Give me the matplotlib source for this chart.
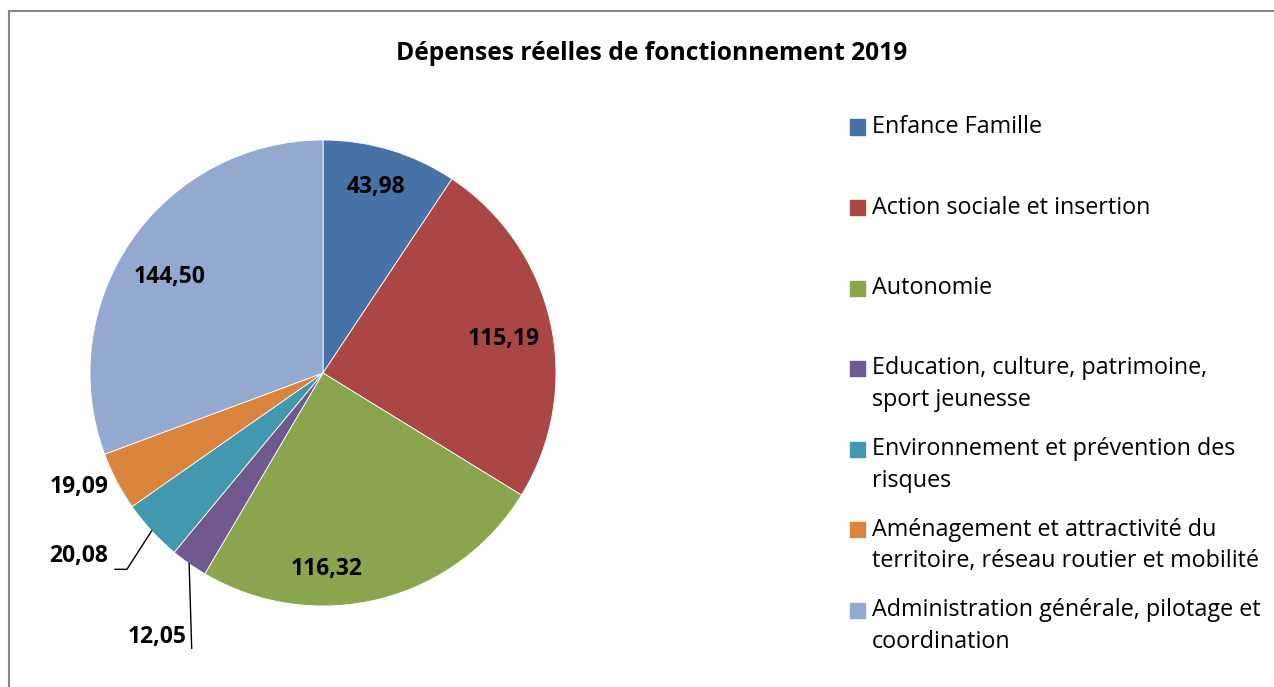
import matplotlib.pyplot as plt
from matplotlib.patches import Rectangle
import numpy as np

plt.rcParams['font.family'] = ['Open Sans', 'DejaVu Sans']

title = "Dépenses réelles de fonctionnement 2019"
categories = [
    "Enfance Famille",
    "Action sociale et insertion",
    "Autonomie",
    "Education, culture, patrimoine,\nsport jeunesse",
    "Environnement et prévention des\nrisques",
    "Aménagement et attractivité du\nterritoire, réseau routier et mobilité",
    "Administration générale, pilotage et\ncoordination",
]
values = [43.98, 115.19, 116.32, 12.05, 20.08, 19.09, 144.50]
colors = ['#4672A8', '#AA4643', '#89A54E', '#71588F', '#4198AF', '#DB843D', '#93A9CF']

# label placement: radius (pie radius = 1) and angle nudge from wedge middle
label_r = [0.83, 0.79, 0.84, 1.34, 1.31, 1.155, 0.775]
label_nudge = [1, -1.7, -13, 2.9, -5.75, -2.7, 2.7]
# leader lines, offsets from label centre (data units)
leaders = {3: [(0.150, -0.047)], 4: [(0.206, -0.056), (0.155, -0.056)]}

W, H = 1274, 687
fig = plt.figure(figsize=(W / 100, H / 100), dpi=100)
fig.add_artist(Rectangle((9 / W, -0.1), 1.2, 1 - 11 / H + 0.1, transform=fig.transFigure,
                         fill=False, edgecolor='#868686', lw=1.5))

cx, cy, R = 323, 373, 233
ax = fig.add_axes([(cx - R) / W, 1 - (cy + R) / H, 2 * R / W, 2 * R / H])
wedges, _ = ax.pie(values, colors=colors, startangle=90, counterclock=False,
                   wedgeprops=dict(edgecolor='white', linewidth=0.6))
ax.set_xlim(-1, 1)
ax.set_ylim(-1, 1)
ax.set_axis_off()

for i, w in enumerate(wedges):
    mid = np.deg2rad((w.theta1 + w.theta2) / 2)
    ang = mid + np.deg2rad(label_nudge[i])
    lx, ly = label_r[i] * np.cos(ang), label_r[i] * np.sin(ang)
    txt = f"{values[i]:.2f}".replace('.', ',')
    ax.text(lx, ly, txt, ha='center', va='center', fontsize=16.5, fontweight='bold', clip_on=False)
    if i in leaders:
        xs = [np.cos(mid)] + [lx + dx for dx, dy in leaders[i]]
        ys = [np.sin(mid)] + [ly + dy for dx, dy in leaders[i]]
        ax.plot(xs, ys, color='black', lw=1, clip_on=False)

fig.text(652 / W, 1 - 54 / H, title, ha='center', va='center', fontsize=17.7, fontweight='bold')

# legend
row_y = 127
for i, lab in enumerate(categories):
    fig.add_artist(Rectangle((850 / W, 1 - (row_y + 7.5) / H), 15 / W, 15 / H,
                             transform=fig.transFigure, color=colors[i]))
    for j, line in enumerate(lab.split('\n')):
        fig.text(872 / W, 1 - (row_y + 32 * j) / H, line, ha='left', va='center', fontsize=16.8)
    row_y += 80.5

fig.savefig('out.png', dpi=100)
